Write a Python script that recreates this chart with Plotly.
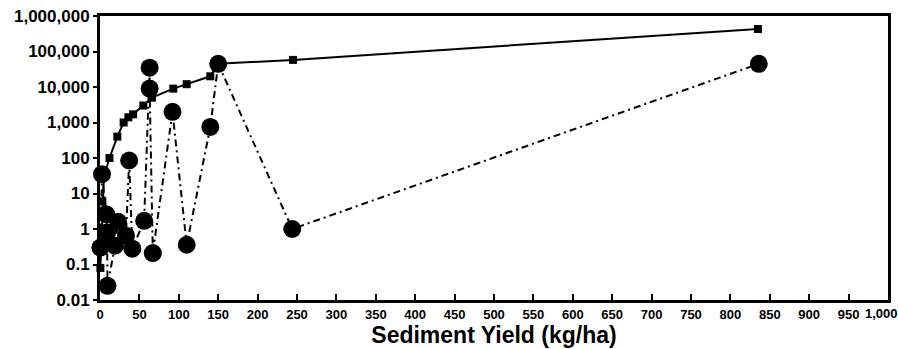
import plotly.graph_objects as go

# Solid series (squares)
sq_x = [0.5, 1.5, 3, 5, 12, 22, 30, 36, 42, 55, 66, 93, 110, 140, 150, 245, 835]
sq_y = [0.08, 0.3, 6, 30, 100, 400, 1000, 1400, 1700, 3000, 5000, 9000, 12000, 20000, 45000, 58000, 430000]

# Dash-dot series (circles)
ci_x = [0.5, 2.5, 8, 9, 9.5, 19, 23, 33, 37, 41, 56, 63, 63, 67, 92, 110, 140, 150, 244, 836]
ci_y = [0.3, 35, 2.6, 0.8, 0.025, 0.34, 1.6, 0.65, 85, 0.28, 1.7, 35000, 9000, 0.21, 2000, 0.36, 750, 45000, 1.0, 45000]

y_tickvals = [0.01, 0.1, 1, 10, 100, 1000, 10000, 100000, 1000000]
y_ticktext = ["0.01", "0.1", "1", "10", "100", "1,000", "10,000", "100,000", "1,000,000"]
x_tickvals = list(range(0, 1001, 50))
x_ticktext = [f"{v:,}" for v in x_tickvals]

fig = go.Figure()
fig.add_trace(go.Scatter(
    x=ci_x, y=ci_y, mode="lines+markers",
    line=dict(color="black", width=2, dash="7px,4px,2px,4px"),
    marker=dict(symbol="circle", size=18, color="black"),
    showlegend=False, cliponaxis=False))
fig.add_trace(go.Scatter(
    x=sq_x, y=sq_y, mode="lines+markers",
    line=dict(color="black", width=2),
    marker=dict(symbol="square", size=8, color="black"),
    showlegend=False, cliponaxis=False))

font = "Liberation Sans, Arial, sans-serif"
fig.update_layout(
    width=898, height=349,
    margin=dict(l=100, r=7, t=16, b=47),
    paper_bgcolor="white", plot_bgcolor="white",
    font=dict(family=font, color="black"),
    xaxis=dict(
        range=[0, 1000], tickvals=x_tickvals[:-1], ticktext=x_ticktext[:-1],
        ticks="inside", ticklen=6, tickwidth=2, tickcolor="black",
        tickfont=dict(size=13, family=font, weight="bold"),
        showline=True, linewidth=3, linecolor="black", mirror=True,
        showgrid=False, zeroline=False,
        title=dict(text="<b>Sediment Yield (kg/ha)</b>", font=dict(size=23, family=font), standoff=4),
    ),
    yaxis=dict(
        type="log", range=[-2, 6], tickvals=y_tickvals, ticktext=y_ticktext,
        ticks="outside", ticklen=4, tickwidth=2, tickcolor="black",
        tickfont=dict(size=17, family=font, weight="bold"),
        showline=True, linewidth=3, linecolor="black", mirror=True,
        showgrid=False, zeroline=False,
    ),
)
# last x tick label, nudged left so it stays inside the figure
fig.add_annotation(x=x_tickvals[-1], y=0, xref="x", yref="paper",
                   text="<b>" + x_ticktext[-1] + "</b>", showarrow=False,
                   xanchor="right", yanchor="top", yshift=-4, xshift=12,
                   font=dict(size=13, family=font, color="black"))
fig.write_html("out.html")
